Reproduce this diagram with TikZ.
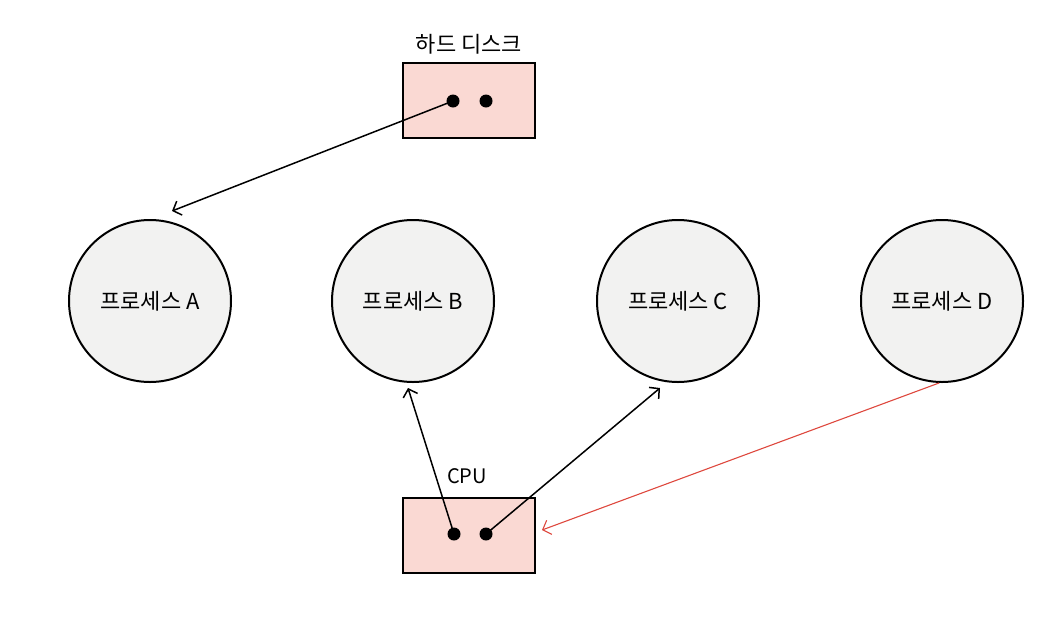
\documentclass[tikz,border=0pt]{standalone}
\usepackage{fontspec}
\setmainfont{Noto Sans CJK KR}
\usepackage{tikz}
\usetikzlibrary{arrows.meta, positioning, calc}
\definecolor{boxpink}{RGB}{250,217,211}
\definecolor{procgray}{RGB}{242,242,241}
\definecolor{linered}{RGB}{222,72,62}
\tikzstyle{arrow} = [line width=1.5pt,-{Straight Barb[length=7pt,width=15pt]}]
\tikzset{
devbox/.style={draw,line width=2pt,fill=boxpink,minimum width=132pt,minimum height=75pt,inner sep=0pt},
procnode/.style={circle,draw,line width=2pt,fill=procgray,minimum size=162pt,inner sep=0pt,font=\fontsize{22}{26}\selectfont},
devlabel/.style={font=\fontsize{22}{26}\selectfont}
}

\begin{document}
\begin{tikzpicture}[x=1pt,y=-1pt]
\useasboundingbox (0,0) rectangle (1060,630);
%----------------------------------------------------------------------------
% Placement of nodes
\node (disk) [devbox] at (469,100.5) {};
\node (diskLabel) [devlabel] at (469,44) {하드 디스크};
\node (cpu) [devbox] at (469,535) {};
\node (cpuLabel) [devlabel,font=\fontsize{20}{24}\selectfont] at (467,476) {CPU};

\node (procA) [procnode] at (150,301) {프로세스 A};
\node (procB) [procnode] at (413,301) {프로세스 B};
\node (procC) [procnode] at (678,301) {프로세스 C};
\node (procD) [procnode] at (942,301) {프로세스 D};

\coordinate (diskDotL) at (453,101);
\coordinate (diskDotR) at (486,101);
\coordinate (cpuDotL) at (454,534);
\coordinate (cpuDotR) at (486,534);
\fill (diskDotL) circle (6.5pt);
\fill (diskDotR) circle (6.5pt);
\fill (cpuDotL) circle (6.5pt);
\fill (cpuDotR) circle (6.5pt);

%----------------------------------------------------------------------------
% Lines
\coordinate (tipA) at (172,211);
\coordinate (tipB) at (408,388);
\coordinate (tipC) at (660,388);
\coordinate (tipCpu) at ($(cpu.east)+(6,-5)$);
\draw[arrow] (diskDotL) -- (tipA);
\draw[arrow] (cpuDotL) -- (tipB);
\draw[arrow] (cpuDotR) -- (tipC);
\draw[arrow,linered,line width=1.1pt] (procD.268) -- (tipCpu);

\end{tikzpicture}
\end{document}
